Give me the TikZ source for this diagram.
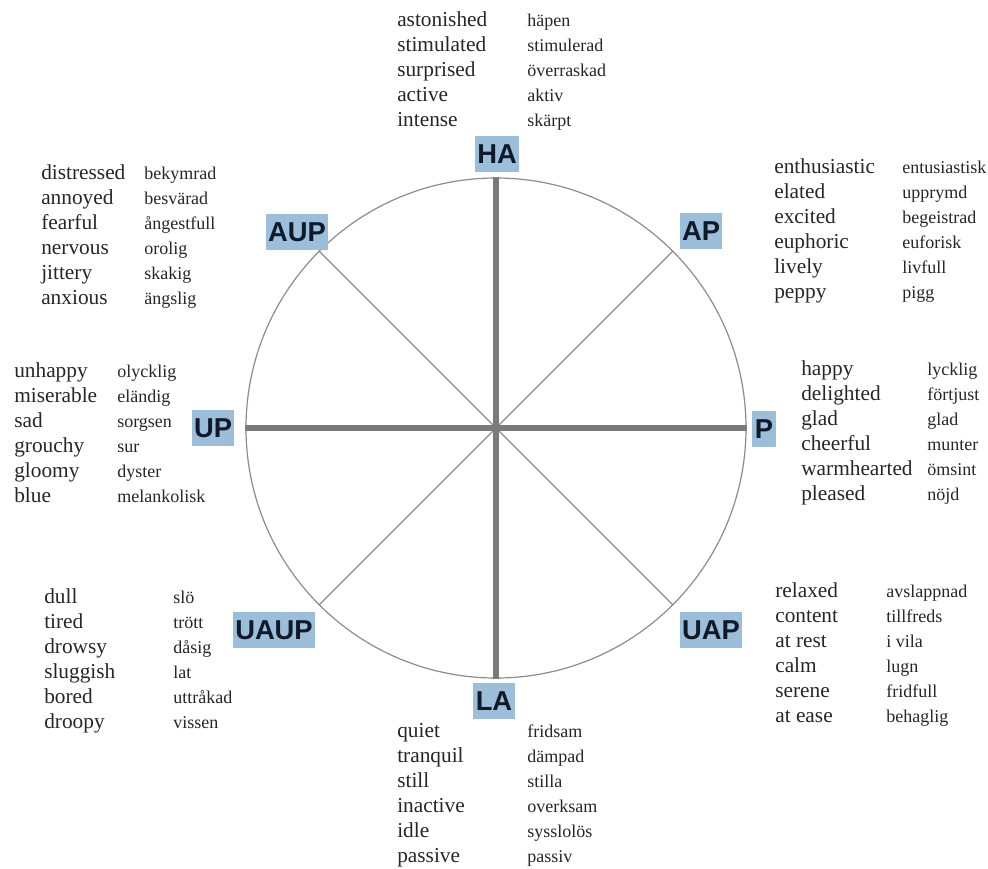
\documentclass[tikz,border=0pt]{standalone}
\usepackage{fontspec}
\setmainfont{Liberation Serif}
\newfontfamily\labelfont{Liberation Sans}
\usepackage{xcolor}
\usepackage{tikz}
\usetikzlibrary{shapes.geometric}

\definecolor{moodblue}{RGB}{155,190,218}
\definecolor{labelink}{RGB}{15,25,40}
\definecolor{axisgray}{RGB}{122,122,122}
\definecolor{rimgray}{RGB}{140,140,140}

\begin{document}
\begin{tikzpicture}[x=0.75pt,y=-0.75pt,
    mood/.style={fill=moodblue,text=labelink,inner xsep=1.8pt,inner ysep=0pt,
      minimum height=27pt,font=\labelfont\bfseries\fontsize{20.5}{21}\selectfont},
    en/.style={anchor=base west,inner sep=0pt,text=black!85,font=\fontsize{16}{18}\selectfont},
    sv/.style={anchor=base west,inner sep=0pt,text=black!85,font=\fontsize{13.5}{15}\selectfont},
    axis/.style={draw=axisgray,line width=4.5pt},
    spoke/.style={draw=rimgray,line width=0.9pt}]
    \useasboundingbox (0,0) rectangle (988,868);

    % the wheel
    \node[circle,draw=rimgray,line width=0.9pt,inner sep=0pt,minimum size=375pt] (wheel) at (496,428) {};
    \draw[spoke] (wheel.center) -- (wheel.north west);
    \draw[spoke] (wheel.center) -- (wheel.north east);
    \draw[spoke] (wheel.center) -- (wheel.south west);
    \draw[spoke] (wheel.center) -- (wheel.south east);
    \draw[axis] (wheel.north) -- (wheel.south);
    \draw[axis] (wheel.west) -- (wheel.east);

    % octant labels
    \node[mood] (HA) at (497,154) {HA};
    \node[mood] (AUP) at (297,232) {AUP};
    \node[mood] (AP) at (701,231) {AP};
    \node[mood] (UP) at (213,428) {UP};
    \node[mood] (P) at (764,429) {P};
    \node[mood] (UAUP) at (274,630) {UAUP};
    \node[mood] (UAP) at (711,630) {UAP};
    \node[mood] (LA) at (494,701) {LA};

    % word lists, english / swedish
    \foreach \en/\sv [count=\i] in {astonished/häpen,stimulated/stimulerad,
        surprised/överraskad,active/aktiv,intense/skärpt} {
      \node[en] (ha-en\i) at (397,{26+25*(\i-1)}) {\en};
      \node[sv] (ha-sv\i) at (527,{26+25*(\i-1)}) {\sv};
    }
    \foreach \en/\sv [count=\i] in {distressed/bekymrad,annoyed/besvärad,
        fearful/ångestfull,nervous/orolig,jittery/skakig,anxious/ängslig} {
      \node[en] (aup-en\i) at (41,{179+25*(\i-1)}) {\en};
      \node[sv] (aup-sv\i) at (144,{179+25*(\i-1)}) {\sv};
    }
    \foreach \en/\sv [count=\i] in {enthusiastic/entusiastisk,elated/upprymd,
        excited/begeistrad,euphoric/euforisk,lively/livfull,peppy/pigg} {
      \node[en] (ap-en\i) at (774,{173+25*(\i-1)}) {\en};
      \node[sv] (ap-sv\i) at (902,{173+25*(\i-1)}) {\sv};
    }
    \foreach \en/\sv [count=\i] in {unhappy/olycklig,miserable/eländig,
        sad/sorgsen,grouchy/sur,gloomy/dyster,blue/melankolisk} {
      \node[en] (up-en\i) at (14,{377+25*(\i-1)}) {\en};
      \node[sv] (up-sv\i) at (117,{377+25*(\i-1)}) {\sv};
    }
    \foreach \en/\sv [count=\i] in {happy/lycklig,delighted/förtjust,
        glad/glad,cheerful/munter,warmhearted/ömsint,pleased/nöjd} {
      \node[en] (p-en\i) at (801,{375+25*(\i-1)}) {\en};
      \node[sv] (p-sv\i) at (927,{375+25*(\i-1)}) {\sv};
    }
    \foreach \en/\sv [count=\i] in {dull/slö,tired/trött,drowsy/dåsig,
        sluggish/lat,bored/uttråkad,droopy/vissen} {
      \node[en] (uaup-en\i) at (44,{603+25*(\i-1)}) {\en};
      \node[sv] (uaup-sv\i) at (173,{603+25*(\i-1)}) {\sv};
    }
    \foreach \en/\sv [count=\i] in {relaxed/avslappnad,content/tillfreds,
        at rest/i vila,calm/lugn,serene/fridfull,at ease/behaglig} {
      \node[en] (uap-en\i) at (775,{597+25*(\i-1)}) {\en};
      \node[sv] (uap-sv\i) at (886,{597+25*(\i-1)}) {\sv};
    }
    \foreach \en/\sv [count=\i] in {quiet/fridsam,tranquil/dämpad,still/stilla,
        inactive/overksam,idle/sysslolös,passive/passiv} {
      \node[en] (la-en\i) at (397,{737+25*(\i-1)}) {\en};
      \node[sv] (la-sv\i) at (527,{737+25*(\i-1)}) {\sv};
    }
\end{tikzpicture}
\end{document}
